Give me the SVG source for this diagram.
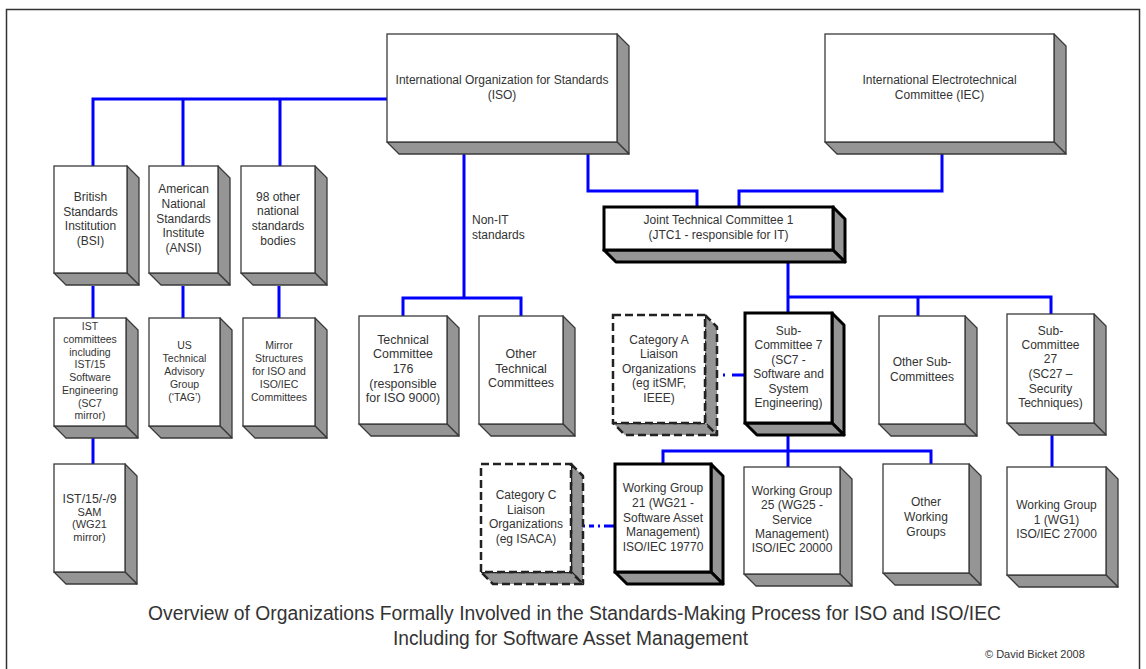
<svg xmlns="http://www.w3.org/2000/svg" width="1146" height="669" viewBox="0 0 1146 669">
<style>
.f{fill:#fff;stroke:#3a3a3a;stroke-width:1.3}
.s{fill:#959595;stroke:#3a3a3a;stroke-width:1.3;stroke-linejoin:round}
.thick .f,.thick .s{stroke:#000;stroke-width:3}
.dash .f,.dash .s{stroke:#222;stroke-width:2.5;stroke-dasharray:8 4}
.t{font-family:"Liberation Sans",Arial,sans-serif;font-size:12px;fill:#333;text-anchor:middle}
.sm{font-size:10.5px}
.c{fill:none;stroke:#0000ff;stroke-width:3}
</style>
<rect x="6.5" y="9.5" width="1133" height="662" fill="#fff" stroke="#333" stroke-width="1.5"/>

<g id="connectors">
<path class="c" d="M93 166V99H387M183 99V166M280 99V166"/>
<path class="c" d="M93 286V318M183 286V318M279 286V318M93 438V464"/>
<path class="c" d="M464 154V298H403V316M464 298H521V316"/>
<path class="c" d="M588 154V191H697V207M942 154V191H739V207"/>
<path class="c" d="M788 262V297H1051V314M918 297V316M788 297V313"/>
<path class="c" d="M788 435V451H663V464M788 451H931V464M788 451V467"/>
<path class="c" d="M1052 435V467"/>
<path class="c" d="M745 375H717" stroke-dasharray="13 7 2 10"/>
<path class="c" d="M615 526H583" stroke-dasharray="11 4 2 4 5 4 2 10"/>
</g>

<g id="bsi"><polygon class="s" points="127,166 139,178 139,285 127,273"/><polygon class="s" points="54,273 127,273 139,285 66,285"/><rect class="f" x="54" y="166" width="73" height="107"/>
<text class="t"><tspan x="90.5" y="201">British</tspan><tspan x="90.5" y="216">Standards</tspan><tspan x="90.5" y="230">Institution</tspan><tspan x="90.5" y="245">(BSI)</tspan></text></g>

<g id="ansi"><polygon class="s" points="218,166 230,178 230,285 218,273"/><polygon class="s" points="149,273 218,273 230,285 161,285"/><rect class="f" x="149" y="166" width="69" height="107"/>
<text class="t"><tspan x="183.5" y="193">American</tspan><tspan x="183.5" y="208">National</tspan><tspan x="183.5" y="223">Standards</tspan><tspan x="183.5" y="237">Institute</tspan><tspan x="183.5" y="252">(ANSI)</tspan></text></g>

<g id="other98"><polygon class="s" points="315,166 327,178 327,285 315,273"/><polygon class="s" points="241,273 315,273 327,285 253,285"/><rect class="f" x="241" y="166" width="74" height="107"/>
<text class="t"><tspan x="278" y="201">98 other</tspan><tspan x="278" y="215">national</tspan><tspan x="278" y="230">standards</tspan><tspan x="278" y="245">bodies</tspan></text></g>

<g id="iso"><polygon class="s" points="617,34 629,46 629,154 617,142"/><polygon class="s" points="387,142 617,142 629,154 399,154"/><rect class="f" x="387" y="34" width="230" height="108"/>
<text class="t"><tspan x="502" y="84">International Organization for Standards</tspan><tspan x="502" y="99">(ISO)</tspan></text></g>

<g id="iec"><polygon class="s" points="1054,34 1066,46 1066,154 1054,142"/><polygon class="s" points="825,142 1054,142 1066,154 837,154"/><rect class="f" x="825" y="34" width="229" height="108"/>
<text class="t"><tspan x="939.5" y="84">International Electrotechnical</tspan><tspan x="939.5" y="99">Committee (IEC)</tspan></text></g>

<text class="t" style="text-anchor:start"><tspan x="472" y="224">Non-IT</tspan><tspan x="472" y="239">standards</tspan></text>

<g id="jtc1" class="thick"><polygon class="s" points="833,207 845,219 845,262 833,250"/><polygon class="s" points="604,250 833,250 845,262 616,262"/><rect class="f" x="604" y="207" width="229" height="43"/>
<text class="t"><tspan x="718.5" y="224">Joint Technical Committee 1</tspan><tspan x="718.5" y="239">(JTC1 - responsible for IT)</tspan></text></g>

<g id="ist"><polygon class="s" points="126,318 138,330 138,438 126,426"/><polygon class="s" points="54,426 126,426 138,438 66,438"/><rect class="f" x="54" y="318" width="72" height="108"/>
<text class="t sm"><tspan x="90" y="330">IST</tspan><tspan x="90" y="343">committees</tspan><tspan x="90" y="356">including</tspan><tspan x="90" y="368">IST/15</tspan><tspan x="90" y="381">Software</tspan><tspan x="90" y="394">Engineering</tspan><tspan x="90" y="407">(SC7</tspan><tspan x="90" y="419">mirror)</tspan></text></g>

<g id="tag"><polygon class="s" points="220,318 232,330 232,438 220,426"/><polygon class="s" points="149,426 220,426 232,438 161,438"/><rect class="f" x="149" y="318" width="71" height="108"/>
<text class="t sm"><tspan x="184.5" y="349">US</tspan><tspan x="184.5" y="362">Technical</tspan><tspan x="184.5" y="375">Advisory</tspan><tspan x="184.5" y="388">Group</tspan><tspan x="184.5" y="401">(‘TAG’)</tspan></text></g>

<g id="mirror"><polygon class="s" points="315,318 327,330 327,438 315,426"/><polygon class="s" points="243,426 315,426 327,438 255,438"/><rect class="f" x="243" y="318" width="72" height="108"/>
<text class="t sm"><tspan x="279" y="349">Mirror</tspan><tspan x="279" y="362">Structures</tspan><tspan x="279" y="375">for ISO and</tspan><tspan x="279" y="388">ISO/IEC</tspan><tspan x="279" y="401">Committees</tspan></text></g>

<g id="ist159"><polygon class="s" points="125,464 137,476 137,584 125,572"/><polygon class="s" points="54,572 125,572 137,584 66,584"/><rect class="f" x="54" y="464" width="71" height="108"/>
<text class="t" style="font-size:11px"><tspan x="89.5" y="503" style="font-size:12.3px">IST/15/-/9</tspan><tspan x="89.5" y="516">SAM</tspan><tspan x="89.5" y="528">(WG21</tspan><tspan x="89.5" y="541">mirror)</tspan></text></g>

<g id="tc176"><polygon class="s" points="447,316 459,328 459,436 447,424"/><polygon class="s" points="359,424 447,424 459,436 371,436"/><rect class="f" x="359" y="316" width="88" height="108"/>
<text class="t" style="font-size:12.4px"><tspan x="403" y="344">Technical</tspan><tspan x="403" y="358">Committee</tspan><tspan x="403" y="373">176</tspan><tspan x="403" y="388">(responsible</tspan><tspan x="403" y="402">for ISO 9000)</tspan></text></g>

<g id="othertc"><polygon class="s" points="563,316 575,328 575,436 563,424"/><polygon class="s" points="479,424 563,424 575,436 491,436"/><rect class="f" x="479" y="316" width="84" height="108"/>
<text class="t" style="font-size:12.4px"><tspan x="521" y="358">Other</tspan><tspan x="521" y="373">Technical</tspan><tspan x="521" y="387">Committees</tspan></text></g>

<g id="cata" class="dash"><polygon class="s" points="705,315 717,327 717,435 705,423"/><polygon class="s" points="613,423 705,423 717,435 625,435"/><rect class="f" x="613" y="315" width="92" height="108"/>
<text class="t"><tspan x="659" y="344">Category A</tspan><tspan x="659" y="358">Liaison</tspan><tspan x="659" y="373">Organizations</tspan><tspan x="659" y="387">(eg itSMF,</tspan><tspan x="659" y="402">IEEE)</tspan></text></g>

<g id="sc7" class="thick"><polygon class="s" points="832,313 844,325 844,435 832,423"/><polygon class="s" points="745,423 832,423 844,435 757,435"/><rect class="f" x="745" y="313" width="87" height="110"/>
<text class="t"><tspan x="788.5" y="335">Sub-</tspan><tspan x="788.5" y="349">Committee 7</tspan><tspan x="788.5" y="364">(SC7 -</tspan><tspan x="788.5" y="378">Software and</tspan><tspan x="788.5" y="393">System</tspan><tspan x="788.5" y="407">Engineering)</tspan></text></g>

<g id="othersub"><polygon class="s" points="965,316 977,328 977,436 965,424"/><polygon class="s" points="879,424 965,424 977,436 891,436"/><rect class="f" x="879" y="316" width="86" height="108"/>
<text class="t"><tspan x="922" y="366">Other Sub-</tspan><tspan x="922" y="381">Committees</tspan></text></g>

<g id="sc27"><polygon class="s" points="1094,314 1106,326 1106,435 1094,423"/><polygon class="s" points="1007,423 1094,423 1106,435 1019,435"/><rect class="f" x="1007" y="314" width="87" height="109"/>
<text class="t"><tspan x="1050.5" y="335">Sub-</tspan><tspan x="1050.5" y="349">Committee</tspan><tspan x="1050.5" y="363">27</tspan><tspan x="1050.5" y="378">(SC27 –</tspan><tspan x="1050.5" y="393">Security</tspan><tspan x="1050.5" y="407">Techniques)</tspan></text></g>

<g id="catc" class="dash"><polygon class="s" points="571,464 583,476 583,584 571,572"/><polygon class="s" points="481,572 571,572 583,584 493,584"/><rect class="f" x="481" y="464" width="90" height="108"/>
<text class="t"><tspan x="526" y="499">Category C</tspan><tspan x="526" y="514">Liaison</tspan><tspan x="526" y="528">Organizations</tspan><tspan x="526" y="543">(eg ISACA)</tspan></text></g>

<g id="wg21" class="thick"><polygon class="s" points="711,464 723,476 723,584 711,572"/><polygon class="s" points="615,572 711,572 723,584 627,584"/><rect class="f" x="615" y="464" width="96" height="108"/>
<text class="t"><tspan x="663" y="492">Working Group</tspan><tspan x="663" y="507">21 (WG21 -</tspan><tspan x="663" y="522">Software Asset</tspan><tspan x="663" y="536">Management)</tspan><tspan x="663" y="551">ISO/IEC 19770</tspan></text></g>

<g id="wg25"><polygon class="s" points="840,467 852,479 852,586 840,574"/><polygon class="s" points="744,574 840,574 852,586 756,586"/><rect class="f" x="744" y="467" width="96" height="107"/>
<text class="t"><tspan x="792" y="495">Working Group</tspan><tspan x="792" y="509">25 (WG25 -</tspan><tspan x="792" y="524">Service</tspan><tspan x="792" y="538">Management)</tspan><tspan x="792" y="552">ISO/IEC 20000</tspan></text></g>

<g id="otherwg"><polygon class="s" points="969,464 981,476 981,585 969,573"/><polygon class="s" points="883,573 969,573 981,585 895,585"/><rect class="f" x="883" y="464" width="86" height="109"/>
<text class="t"><tspan x="926" y="506">Other</tspan><tspan x="926" y="521">Working</tspan><tspan x="926" y="536">Groups</tspan></text></g>

<g id="wg1"><polygon class="s" points="1106,467 1118,479 1118,587 1106,575"/><polygon class="s" points="1007,575 1106,575 1118,587 1019,587"/><rect class="f" x="1007" y="467" width="99" height="108"/>
<text class="t"><tspan x="1056.5" y="509">Working Group</tspan><tspan x="1056.5" y="524">1 (WG1)</tspan><tspan x="1056.5" y="538">ISO/IEC 27000</tspan></text></g>

<g id="title">
<text x="148" y="620" font-family="Liberation Sans, Arial, sans-serif" font-size="20" fill="#333" textLength="853" lengthAdjust="spacingAndGlyphs">Overview of Organizations Formally Involved in the Standards-Making Process for ISO and ISO/IEC</text>
<text x="393" y="645" font-family="Liberation Sans, Arial, sans-serif" font-size="20" fill="#333" textLength="355" lengthAdjust="spacingAndGlyphs">Including for Software Asset Management</text>
<text x="985" y="658" font-family="Liberation Sans, Arial, sans-serif" font-size="11" fill="#333">© David Bicket 2008</text>
</g>
</svg>
